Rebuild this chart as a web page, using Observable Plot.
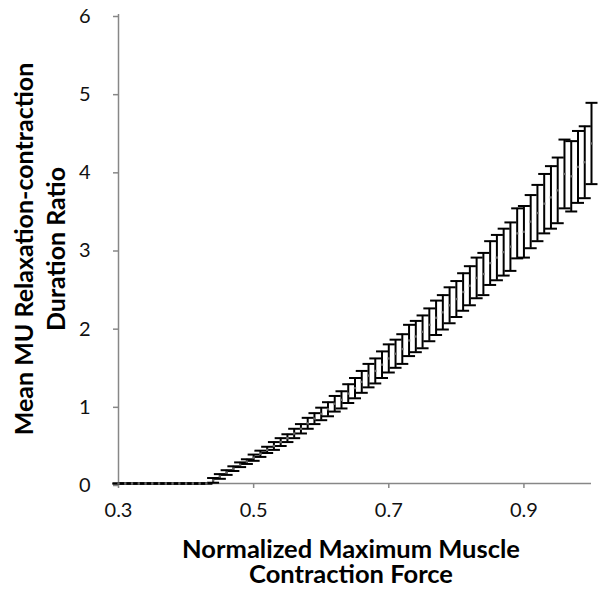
<!DOCTYPE html>
<html>
<head>
<meta charset="utf-8">
<script src="https://cdn.jsdelivr.net/npm/d3@7"></script>
<script src="https://cdn.jsdelivr.net/npm/@observablehq/plot@0.6"></script>
<style>
  html, body { margin: 0; padding: 0; background: #fff; }
  #chart svg { display: block; }
</style>
</head>
<body>
<div id="chart"></div>
<script>
// Normalized maximum muscle contraction force (x)
const forces = [
  0.30, 0.31, 0.32, 0.33, 0.34, 0.35, 0.36, 0.37, 0.38, 0.39,
  0.40, 0.41, 0.42, 0.43, 0.44, 0.45, 0.46, 0.47, 0.48, 0.49,
  0.50, 0.51, 0.52, 0.53, 0.54, 0.55, 0.56, 0.57, 0.58, 0.59,
  0.60, 0.61, 0.62, 0.63, 0.64, 0.65, 0.66, 0.67, 0.68, 0.69,
  0.70, 0.71, 0.72, 0.73, 0.74, 0.75, 0.76, 0.77, 0.78, 0.79,
  0.80, 0.81, 0.82, 0.83, 0.84, 0.85, 0.86, 0.87, 0.88, 0.89,
  0.90, 0.91, 0.92, 0.93, 0.94, 0.95, 0.96, 0.97, 0.98, 0.99,
  1.00
];
// Mean MU relaxation-contraction duration ratio
const ratios = [
  0, 0, 0, 0, 0, 0, 0, 0, 0, 0,
  0, 0, 0, 0, 0.04, 0.09, 0.14, 0.19, 0.24, 0.28,
  0.33, 0.38, 0.43, 0.48, 0.53, 0.58, 0.64, 0.70, 0.77, 0.83,
  0.89, 0.95, 1.02, 1.07, 1.15, 1.22, 1.30, 1.38, 1.44, 1.52,
  1.60, 1.66, 1.72, 1.83, 1.88, 1.94, 2.03, 2.12, 2.19, 2.28,
  2.36, 2.45, 2.53, 2.63, 2.68, 2.82, 2.89, 2.96, 3.03, 3.20,
  3.22, 3.35, 3.46, 3.58, 3.66, 3.75, 3.96, 3.93, 4.05, 4.11,
  4.35
];
// Error bar half-lengths
const errors = [
  0, 0, 0, 0, 0, 0, 0, 0, 0, 0,
  0, 0, 0, 0, 0.03, 0.03, 0.03, 0.03, 0.03, 0.03,
  0.04, 0.04, 0.04, 0.05, 0.05, 0.05, 0.06, 0.06, 0.07, 0.07,
  0.08, 0.09, 0.10, 0.11, 0.12, 0.13, 0.14, 0.15, 0.16, 0.17,
  0.18, 0.18, 0.19, 0.20, 0.20, 0.21, 0.21, 0.22, 0.22, 0.23,
  0.23, 0.24, 0.25, 0.26, 0.27, 0.28, 0.29, 0.30, 0.31, 0.32,
  0.33, 0.34, 0.36, 0.38, 0.40, 0.42, 0.44, 0.45, 0.46, 0.46,
  0.52
];
const xTicks = [0.3, 0.5, 0.7, 0.9];
const yTicks = [0, 1, 2, 3, 4, 5, 6];
const xTitle = "Normalized Maximum Muscle\nContraction Force";
const yTitle = "Mean MU Relaxation-contraction\nDuration Ratio";

const data = forces.map((x, i) => ({
  x, y: ratios[i], lo: ratios[i] - errors[i], hi: ratios[i] + errors[i]
}));

const axisGray = "#878787";
const capSymbol = {
  draw(context, size) {
    const r = Math.sqrt(size / Math.PI);
    context.moveTo(-r, 0);
    context.lineTo(r, 0);
  }
};

const chart = Plot.plot({
  width: 603,
  height: 606,
  marginLeft: 118,
  marginRight: 12,
  marginTop: 14,
  marginBottom: 123,
  style: { fontFamily: "Lato, 'Open Sans', sans-serif", background: "#fff", color: "#000" },
  x: { domain: [0.3, 1.0] },
  y: { domain: [0, 6] },
  marks: [
    Plot.ruleX([0.3], { stroke: axisGray, strokeWidth: 1.5 }),
    Plot.ruleY([0], { stroke: axisGray, strokeWidth: 1.5 }),
    Plot.axisY({ ticks: yTicks, tickSize: 5, tickPadding: 23, stroke: axisGray, strokeWidth: 1.5,
      fill: "#111", fontSize: 20, dy: 2, label: null, tickFormat: d3.format("d") }),
    Plot.axisX({ ticks: xTicks, tickSize: 5, tickPadding: 14, stroke: axisGray, strokeWidth: 1.5,
      fill: "#111", fontSize: 20, label: null, tickFormat: d3.format(".1f") }),
    Plot.ruleX(data, { x: "x", y1: "lo", y2: "hi", stroke: "#000", strokeWidth: 2 }),
    Plot.dot(data, { x: "x", y: "hi", symbol: capSymbol, r: 6, stroke: "#000", strokeWidth: 2, fill: "none" }),
    Plot.dot(data, { x: "x", y: "lo", symbol: capSymbol, r: 6, stroke: "#000", strokeWidth: 2, fill: "none" }),
    Plot.dot(data, { x: "x", y: "y", symbol: "square", r: 1.3, fill: "#666", stroke: "none" }),
    Plot.text([yTitle], { frameAnchor: "left", rotate: -90, dx: -80, fontSize: 25, fontWeight: "bold",
      lineHeight: 1.3, textAnchor: "middle", lineAnchor: "middle", fill: "#000" }),
    Plot.text([xTitle], { frameAnchor: "bottom", dx: -4, dy: 79, fontSize: 25.5, fontWeight: "bold",
      lineHeight: 1.0, textAnchor: "middle", lineAnchor: "middle", fill: "#000" })
  ]
});

document.getElementById("chart").appendChild(chart);
</script>
</body>
</html>
